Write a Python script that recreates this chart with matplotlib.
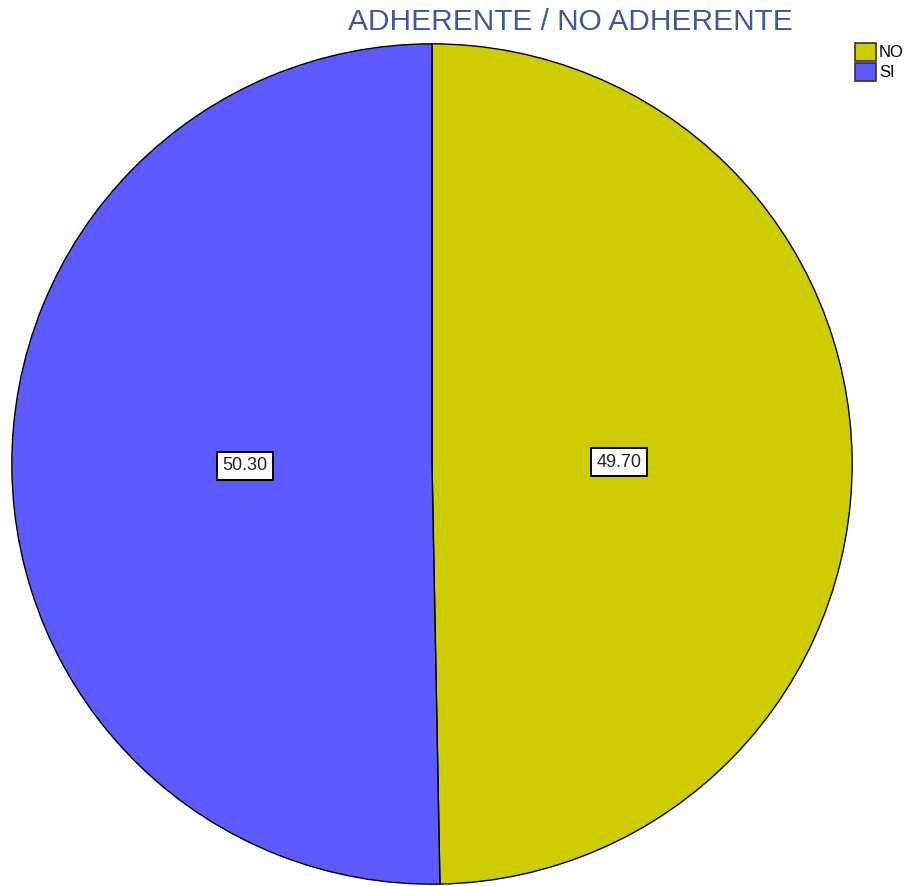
import matplotlib.pyplot as plt
from matplotlib.patches import Patch

# --- Data ---
categories = ["NO", "SI"]
values = [49.70, 50.30]
colors = ["#CCCC00", "#5B5BFF"]

plt.rcParams['font.family'] = ['Liberation Sans', 'DejaVu Sans']

W, H = 910, 886
fig = plt.figure(figsize=(W / 100, H / 100), dpi=100)

# pie spans x 11..853, y 43..885 (pixels from top)
ax = fig.add_axes([11 / W, (H - 885) / H, 842 / W, 842 / H])
wedges, texts, autotexts = ax.pie(
    values, colors=colors, startangle=90, counterclock=False,
    autopct=lambda p: f"{p:.2f}", pctdistance=0.445,
    wedgeprops=dict(edgecolor="black", linewidth=1),
)
for t in autotexts:
    t.set_fontsize(13)
    t.set_color("#222222")
    t.set_bbox(dict(facecolor="white", edgecolor="black", linewidth=1.4, pad=4))
ax.set_xlim(-1.002, 1.002)
ax.set_ylim(-1.002, 1.002)
ax.set_aspect('equal')
ax.axis('off')

fig.text(570 / W, 1 - 22 / H, "ADHERENTE / NO ADHERENTE", ha='center', va='center',
         fontsize=21.5, color="#3F57AA")

handles = [Patch(facecolor=c, edgecolor="#333333", linewidth=1.2, label=l)
           for c, l in zip(colors, categories)]
fig.legend(handles=handles, loc='upper left', bbox_to_anchor=(843 / W, 1 - 31 / H),
           frameon=False, fontsize=12, handlelength=1.3, handleheight=1.3,
           handletextpad=0.15, labelspacing=0.1, borderpad=0.2)

fig.savefig("out.png", dpi=100)
